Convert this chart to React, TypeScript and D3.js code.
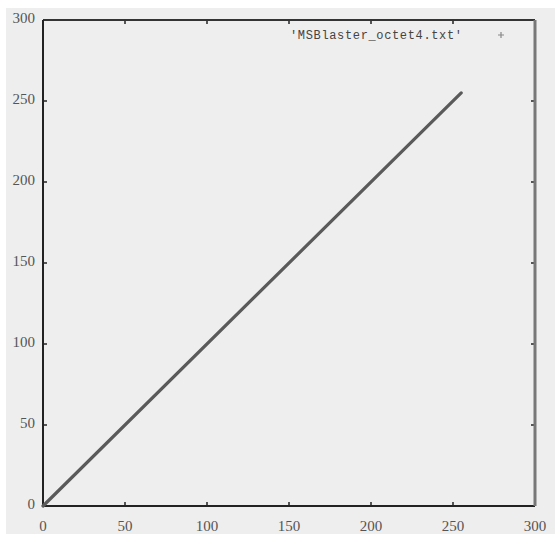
import React, { useEffect, useRef } from 'react';
import * as d3 from 'd3';

// visible data: octet value plotted against itself (endpoints of the "+" run)
const seriesX = [0, 255];
const seriesY = [0, 255];
const xTicks = [0, 50, 100, 150, 200, 250, 300];
const yTicks = [0, 50, 100, 150, 200, 250, 300];
const legendLabel = "'MSBlaster_octet4.txt'";

export default function App() {
  const svgRef = useRef<SVGSVGElement>(null);

  useEffect(() => {
    if (!svgRef.current) return;
    const width = 555;
    const height = 534;
    const margin = { top: 20, right: 20, bottom: 28, left: 43 };

    const svg = d3.select(svgRef.current);
    svg.selectAll('*').remove();
    svg.attr('width', width).attr('height', height);

    svg.append('rect').attr('width', width).attr('height', height).attr('fill', '#ffffff');
    svg.append('rect').attr('x', 6).attr('y', 8).attr('width', width - 6).attr('height', height - 8).attr('fill', '#eeeeee');

    const x = d3.scaleLinear().domain([0, 300]).range([margin.left, width - margin.right]);
    const y = d3.scaleLinear().domain([0, 300]).range([height - margin.bottom, margin.top]);

    const tickLen = 4;
    const axisColor = '#222';

    // ticks on all sides, pointing in
    xTicks.forEach((t) => {
      if (t === 0 || t === 300) return;
      svg.append('line').attr('x1', x(t)).attr('x2', x(t)).attr('y1', y(0)).attr('y2', y(0) - tickLen)
        .attr('stroke', axisColor).attr('stroke-width', 1.5);
      svg.append('line').attr('x1', x(t)).attr('x2', x(t)).attr('y1', y(300)).attr('y2', y(300) + tickLen)
        .attr('stroke', axisColor).attr('stroke-width', 1.5);
    });
    yTicks.forEach((t) => {
      if (t === 0 || t === 300) return;
      svg.append('line').attr('x1', x(0)).attr('x2', x(0) + tickLen).attr('y1', y(t)).attr('y2', y(t))
        .attr('stroke', axisColor).attr('stroke-width', 1.5);
      svg.append('line').attr('x1', x(300)).attr('x2', x(300) - tickLen).attr('y1', y(t)).attr('y2', y(t))
        .attr('stroke', axisColor).attr('stroke-width', 1.5);
    });

    // border
    svg.append('line').attr('x1', x(0)).attr('x2', x(300)).attr('y1', y(300)).attr('y2', y(300))
      .attr('stroke', '#333').attr('stroke-width', 2);
    svg.append('line').attr('x1', x(0)).attr('x2', x(300)).attr('y1', y(0)).attr('y2', y(0))
      .attr('stroke', axisColor).attr('stroke-width', 2);
    svg.append('line').attr('x1', x(0)).attr('x2', x(0)).attr('y1', y(0)).attr('y2', y(300))
      .attr('stroke', axisColor).attr('stroke-width', 2);
    svg.append('line').attr('x1', x(300)).attr('x2', x(300)).attr('y1', y(0)).attr('y2', y(300))
      .attr('stroke', '#777').attr('stroke-width', 3);

    // tick labels
    const labelFont = '"Liberation Serif", "DejaVu Serif", serif';
    yTicks.forEach((t) => {
      svg.append('text').attr('x', 35).attr('y', y(t)).attr('text-anchor', 'end')
        .attr('dominant-baseline', 'middle').attr('font-family', labelFont).attr('font-size', 15)
        .attr('fill', '#555').text(t);
    });
    xTicks.forEach((t) => {
      svg.append('text').attr('x', x(t)).attr('y', 531).attr('text-anchor', 'middle')
        .attr('font-family', labelFont).attr('font-size', 15).attr('fill', '#555').text(t);
    });

    // series
    const pts = seriesX.map((v, i) => [v, seriesY[i]] as [number, number]);
    const line = d3.line<[number, number]>().x((d) => x(d[0])).y((d) => y(d[1]));
    svg.append('path').datum(pts).attr('d', line).attr('fill', 'none')
      .attr('stroke', '#5a5a5a').attr('stroke-width', 3.2).attr('stroke-linecap', 'round');

    // legend
    svg.append('text').attr('x', 290).attr('y', 39).attr('font-family', '"Liberation Mono", "DejaVu Sans Mono", monospace')
      .attr('font-size', 12).attr('textLength', 172).attr('fill', '#444').text(legendLabel);
    const lx = 501;
    const ly = 35;
    svg.append('path').attr('d', `M${lx - 3},${ly}H${lx + 3}M${lx},${ly - 3}V${ly + 3}`)
      .attr('stroke', '#888').attr('stroke-width', 1.2);
  }, []);

  return (
    <div style={{ position: 'absolute', left: 0, top: 0 }}>
      <svg ref={svgRef} style={{ display: 'block' }} />
    </div>
  );
}
